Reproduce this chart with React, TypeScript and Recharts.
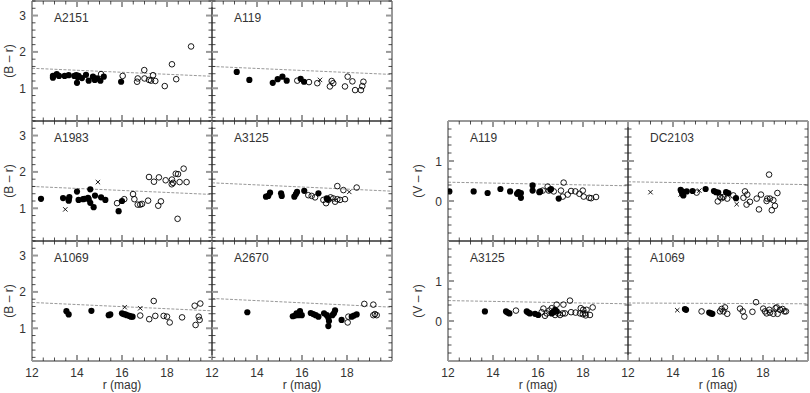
import { ScatterChart, Scatter, XAxis, YAxis, ReferenceLine } from "recharts";

type Pt = [number, number];

// r magnitude axis
const rTicks = [12, 12.5, 13, 13.5, 14, 14.5, 15, 15.5, 16, 16.5, 17, 17.5, 18, 18.5, 19, 19.5, 20];
const rMajor = [12, 14, 16, 18, 20];
const rLabels = [12, 14, 16, 18];

// (B - r) axis
const brTicks = [0.2, 0.4, 0.6, 0.8, 1, 1.2, 1.4, 1.6, 1.8, 2, 2.2, 2.4, 2.6, 2.8, 3, 3.2, 3.4];
const brMajor = [1, 2, 3];
const brLabels = [1, 2, 3];

// (V - r) axis
const vrTicks = [-0.8, -0.6, -0.4, -0.2, 0, 0.2, 0.4, 0.6, 0.8, 1, 1.2, 1.4, 1.6, 1.8];
const vrMajor = [0, 1];
const vrLabels = [0, 1];

// A2151 (B - r)
const a2151Filled: Pt[] = [[12.93, 1.29], [12.93, 1.34], [13.1, 1.39], [13.2, 1.34], [13.45, 1.34], [13.63, 1.36], [13.88, 1.34], [13.97, 1.36], [14.03, 1.3], [14.0, 1.15], [14.07, 1.34], [14.22, 1.28], [14.4, 1.37], [14.52, 1.21], [14.71, 1.32], [14.79, 1.23], [14.89, 1.27], [15.04, 1.21], [15.19, 1.32], [15.96, 1.18]];
const a2151Open: Pt[] = [[15.07, 1.39], [16.03, 1.34], [16.67, 1.18], [16.7, 1.27], [16.99, 1.5], [17.0, 1.27], [17.2, 1.23], [17.29, 1.21], [17.38, 1.36], [17.48, 1.2], [17.9, 1.06], [18.22, 1.66], [18.41, 1.25], [19.07, 2.15]];
const a2151Cross: Pt[] = [];
const a2151Line = [1.55, 1.33];

// A119 (B - r)
const a119bFilled: Pt[] = [[13.1, 1.45], [13.66, 1.23], [14.7, 1.15], [14.92, 1.25], [15.13, 1.32], [15.32, 1.21], [15.94, 1.26], [16.09, 1.18]];
const a119bOpen: Pt[] = [[15.79, 1.21], [16.31, 1.17], [16.68, 1.14], [17.24, 1.05], [17.32, 1.2], [17.39, 1.14], [17.91, 1.05], [18.03, 1.32], [18.24, 1.19], [18.36, 0.95], [18.62, 0.95], [18.68, 1.06], [18.73, 1.18]];
const a119bCross: Pt[] = [[16.8, 1.23]];
const a119bLine = [1.6, 1.38];

// A1983 (B - r)
const a1983Filled: Pt[] = [[12.4, 1.26], [13.38, 1.28], [13.63, 1.25], [13.66, 1.31], [13.63, 1.21], [14.0, 1.46], [14.07, 1.23], [14.27, 1.25], [14.33, 1.26], [14.49, 1.29], [14.52, 1.25], [14.59, 1.52], [14.59, 1.15], [14.74, 1.03], [14.8, 1.35], [15.07, 1.3], [15.26, 1.23], [15.85, 0.92], [16.0, 1.2]];
const a1983Open: Pt[] = [[15.78, 1.14], [16.1, 1.25], [16.49, 1.39], [16.55, 1.25], [16.7, 1.1], [16.81, 1.1], [16.89, 1.12], [17.16, 1.21], [17.2, 1.86], [17.42, 1.73], [17.61, 1.07], [17.64, 1.85], [17.73, 1.19], [17.94, 1.77], [18.22, 1.79], [18.21, 1.66], [18.27, 1.7], [18.39, 1.95], [18.49, 1.94], [18.47, 0.71], [18.56, 1.72], [18.74, 2.09], [18.87, 1.72]];
const a1983Cross: Pt[] = [[13.48, 0.97], [14.93, 1.72]];
const a1983Line = [1.6, 1.38];

// A3125 (B - r)
const a3125bFilled: Pt[] = [[14.4, 1.32], [14.5, 1.34], [14.58, 1.43], [15.07, 1.41], [15.1, 1.34], [15.66, 1.32], [15.73, 1.39], [15.78, 1.45], [16.1, 1.48], [16.73, 1.41], [17.1, 1.27], [17.14, 1.25]];
const a3125bOpen: Pt[] = [[16.28, 1.36], [16.43, 1.34], [16.58, 1.3], [16.95, 1.23], [17.07, 1.14], [17.17, 1.23], [17.27, 1.3], [17.39, 1.27], [17.47, 1.18], [17.57, 1.25], [17.69, 1.23], [17.91, 1.25], [17.57, 1.61], [17.84, 1.5], [18.43, 1.57]];
const a3125bCross: Pt[] = [[18.1, 1.45]];
const a3125bLine = [1.7, 1.47];

// A1069 (B - r)
const a1069bFilled: Pt[] = [[13.53, 1.47], [13.63, 1.38], [14.64, 1.48], [15.41, 1.36], [15.48, 1.38], [16.0, 1.41], [16.07, 1.39], [16.15, 1.38], [16.22, 1.36], [16.33, 1.34], [16.4, 1.32], [16.47, 1.32]];
const a1069bOpen: Pt[] = [[16.81, 1.35], [17.21, 1.25], [17.41, 1.75], [17.48, 1.34], [17.85, 1.34], [18.0, 1.32], [18.12, 1.16], [18.67, 1.3], [19.23, 1.62], [19.27, 1.09], [19.41, 1.32], [19.45, 1.23], [19.48, 1.68]];
const a1069bCross: Pt[] = [[16.12, 1.58], [16.81, 1.55]];
const a1069bLine = [1.71, 1.48];

// A2670 (B - r)
const a2670Filled: Pt[] = [[13.57, 1.44], [15.59, 1.33], [15.69, 1.35], [15.76, 1.41], [15.84, 1.36], [15.91, 1.47], [15.99, 1.36], [16.39, 1.42], [16.5, 1.39], [16.61, 1.36], [16.73, 1.32], [16.98, 1.41], [17.1, 1.36], [17.17, 1.29], [17.2, 1.2], [17.17, 1.06], [17.35, 1.36], [17.42, 1.41], [17.47, 1.49], [17.76, 1.23], [18.21, 1.32], [18.31, 1.35], [18.43, 1.38]];
const a2670Open: Pt[] = [[18.03, 1.16], [18.06, 1.32], [18.77, 1.67], [19.17, 1.65], [19.17, 1.36], [19.24, 1.39], [19.32, 1.36]];
const a2670Cross: Pt[] = [];
const a2670Line = [1.82, 1.58];

// A119 (V - r)
const a119vFilled: Pt[] = [[12.06, 0.24], [13.14, 0.24], [13.76, 0.2], [14.33, 0.3], [14.76, 0.24], [15.07, 0.18], [15.13, 0.22], [15.24, 0.08], [15.24, 0.2], [15.76, 0.26], [15.76, 0.39], [16.06, 0.22], [16.1, 0.24], [16.55, 0.28], [16.58, 0.3], [16.92, 0.06]];
const a119vOpen: Pt[] = [[16.21, 0.26], [16.43, 0.36], [16.48, 0.26], [16.7, 0.24], [17.02, 0.26], [17.1, 0.11], [17.14, 0.46], [17.32, 0.16], [17.47, 0.25], [17.66, 0.24], [17.84, 0.18], [17.99, 0.26], [18.03, 0.11], [18.28, 0.08], [18.36, 0.07], [18.58, 0.1]];
const a119vCross: Pt[] = [];
const a119vLine = [0.47, 0.38];

// DC2103 (V - r)
const dc2103Filled: Pt[] = [[14.34, 0.28], [14.39, 0.24], [14.41, 0.18], [14.46, 0.14], [14.43, 0.23], [14.61, 0.24], [14.87, 0.25], [15.45, 0.3], [15.82, 0.25], [15.91, 0.22], [16.01, 0.21], [16.36, 0.22], [16.46, 0.2], [16.8, 0.07]];
const dc2103Open: Pt[] = [[15.05, 0.21], [15.99, -0.01], [16.09, 0.1], [16.16, 0.07], [16.24, 0.1], [16.41, 0.06], [16.68, 0.14], [17.13, 0.08], [17.2, 0.24], [17.3, 0.16], [17.27, -0.09], [17.42, -0.02], [17.72, 0.06], [17.82, -0.21], [17.91, 0.16], [18.16, 0.0], [18.19, 0.06], [18.27, 0.66], [18.31, 0.06], [18.39, -0.23], [18.46, 0.02], [18.53, -0.12], [18.64, 0.2]];
const dc2103Cross: Pt[] = [[13.0, 0.22], [14.34, 0.16], [15.17, 0.26], [16.83, -0.08]];
const dc2103Line = [0.48, 0.41];

// A3125 (V - r)
const a3125vFilled: Pt[] = [[13.64, 0.24], [14.58, 0.24], [14.65, 0.21], [14.73, 0.19], [15.5, 0.24], [15.57, 0.21], [15.64, 0.19], [15.87, 0.18], [16.01, 0.15], [16.61, 0.19], [16.68, 0.22], [16.76, 0.28], [16.83, 0.24]];
const a3125vOpen: Pt[] = [[15.02, 0.26], [16.16, 0.22], [16.24, 0.31], [16.31, 0.13], [16.39, 0.19], [16.5, 0.26], [16.61, 0.32], [16.76, 0.15], [16.9, 0.19], [16.98, 0.15], [17.1, 0.19], [17.2, 0.19], [16.83, 0.41], [17.13, 0.41], [17.42, 0.51], [17.47, 0.22], [17.67, 0.21], [17.87, 0.19], [17.99, 0.17], [18.09, 0.19], [17.9, 0.32], [18.01, 0.28], [18.16, 0.28], [18.12, 0.14], [18.31, 0.15], [18.43, 0.34]];
const a3125vCross: Pt[] = [];
const a3125vLine = [0.51, 0.43];

// A1069 (V - r)
const a1069vFilled: Pt[] = [[14.53, 0.3], [14.58, 0.28], [15.61, 0.21], [15.69, 0.19], [15.75, 0.18]];
const a1069vOpen: Pt[] = [[15.27, 0.24], [16.09, 0.24], [16.16, 0.3], [16.24, 0.24], [16.31, 0.34], [16.41, 0.18], [16.98, 0.31], [17.1, 0.24], [17.17, 0.11], [17.53, 0.23], [17.69, 0.47], [18.01, 0.31], [18.09, 0.24], [18.16, 0.19], [18.28, 0.28], [18.31, 0.21], [18.46, 0.18], [18.56, 0.32], [18.61, 0.34], [18.65, 0.18], [18.76, 0.28], [18.87, 0.3], [18.95, 0.24], [19.02, 0.24]];
const a1069vCross: Pt[] = [[14.19, 0.27]];
const a1069vLine = [0.45, 0.43];

const W = 180;
const H = 120;
const ML = 40;
const MT = 6;
const MR = 6;
const MB = 34;
const FONT = "'Liberation Sans', Arial, sans-serif";
const TEXT = "#333";
const FRAME = "#333";

const panels = [
  { name: "A2151", left: 32, top: 1, color: "B", filled: a2151Filled, open: a2151Open, cross: a2151Cross, line: a2151Line, yLab: true, xLab: false },
  { name: "A119", left: 212, top: 1, color: "B", filled: a119bFilled, open: a119bOpen, cross: a119bCross, line: a119bLine, yLab: false, xLab: false },
  { name: "A1983", left: 32, top: 121, color: "B", filled: a1983Filled, open: a1983Open, cross: a1983Cross, line: a1983Line, yLab: true, xLab: false },
  { name: "A3125", left: 212, top: 121, color: "B", filled: a3125bFilled, open: a3125bOpen, cross: a3125bCross, line: a3125bLine, yLab: false, xLab: false },
  { name: "A1069", left: 32, top: 241, color: "B", filled: a1069bFilled, open: a1069bOpen, cross: a1069bCross, line: a1069bLine, yLab: true, xLab: true },
  { name: "A2670", left: 212, top: 241, color: "B", filled: a2670Filled, open: a2670Open, cross: a2670Cross, line: a2670Line, yLab: false, xLab: true },
  { name: "A119", left: 448, top: 121, color: "V", filled: a119vFilled, open: a119vOpen, cross: a119vCross, line: a119vLine, yLab: true, xLab: false },
  { name: "DC2103", left: 628, top: 121, color: "V", filled: dc2103Filled, open: dc2103Open, cross: dc2103Cross, line: dc2103Line, yLab: false, xLab: false },
  { name: "A3125", left: 448, top: 241, color: "V", filled: a3125vFilled, open: a3125vOpen, cross: a3125vCross, line: a3125vLine, yLab: true, xLab: true },
  { name: "A1069", left: 628, top: 241, color: "V", filled: a1069vFilled, open: a1069vOpen, cross: a1069vCross, line: a1069vLine, yLab: false, xLab: true },
];

const toPts = (arr: Pt[]) => arr.map(([r, c]) => ({ r, c }));
const near = (v: number, list: number[]) => list.some((m) => Math.abs(m - v) < 1e-6);

const tickStyle = (major: boolean) =>
  major ? { stroke: "#999", strokeWidth: 2, len: 6 } : { stroke: "#222", strokeWidth: 0.8, len: 3.5 };

const xTick = (side: "top" | "bottom", labels: boolean) => (p: any) => {
  const v = p.payload.value;
  const s = tickStyle(near(v, rMajor));
  const dir = side === "bottom" ? -1 : 1;
  return (
    <g>
      <line x1={p.x} x2={p.x} y1={p.y} y2={p.y + dir * s.len} stroke={s.stroke} strokeWidth={s.strokeWidth} />
      {labels && side === "bottom" && near(v, rLabels) && (
        <text x={p.x} y={p.y + 15.5} textAnchor="middle" fontSize={12} fontFamily={FONT} fill={TEXT}>
          {v}
        </text>
      )}
    </g>
  );
};

const yTick = (side: "left" | "right", labels: boolean, major: number[], labelVals: number[]) => (p: any) => {
  const v = p.payload.value;
  const s = tickStyle(near(v, major));
  const dir = side === "left" ? 1 : -1;
  return (
    <g>
      <line x1={p.x} x2={p.x + dir * s.len} y1={p.y} y2={p.y} stroke={s.stroke} strokeWidth={s.strokeWidth} />
      {labels && side === "left" && near(v, labelVals) && (
        <text x={p.x - 6} y={p.y + 4.5} textAnchor="end" fontSize={12} fontFamily={FONT} fill={TEXT}>
          {v}
        </text>
      )}
    </g>
  );
};

const dot = (p: any) => <circle cx={p.cx} cy={p.cy} r={3.1} fill="#000" />;
const ring = (p: any) => <circle cx={p.cx} cy={p.cy} r={2.8} fill="none" stroke="#000" strokeWidth={0.9} />;
const cross = (p: any) => (
  <g stroke="#000" strokeWidth={0.9}>
    <line x1={p.cx - 2.2} y1={p.cy - 2.2} x2={p.cx + 2.2} y2={p.cy + 2.2} />
    <line x1={p.cx - 2.2} y1={p.cy + 2.2} x2={p.cx + 2.2} y2={p.cy - 2.2} />
  </g>
);

function Panel({ p }: { p: (typeof panels)[number] }) {
  const isB = p.color === "B";
  const yDomain = isB ? [0.1, 3.4] : [-1, 2];
  const yTicks = isB ? brTicks : vrTicks;
  const yMajor = isB ? brMajor : vrMajor;
  const yLabels = isB ? brLabels : vrLabels;
  const axisLine = { stroke: FRAME, strokeWidth: 1 };
  // each axis takes 1px, so margins are one less than the gap around the panel
  return (
    <div style={{ position: "absolute", left: p.left - ML, top: p.top - MT }}>
      <ScatterChart width={W + ML + MR} height={H + MT + MB} margin={{ top: MT - 1, right: MR - 1, bottom: MB - 1, left: ML - 1 }}>
        <XAxis xAxisId="b" orientation="bottom" type="number" dataKey="r" domain={[12, 20]} allowDataOverflow ticks={rTicks} interval={0} height={1} tickSize={0} tickMargin={0} tickLine={false} axisLine={axisLine} tick={xTick("bottom", p.xLab)} />
        <XAxis xAxisId="t" orientation="top" type="number" dataKey="r" domain={[12, 20]} allowDataOverflow ticks={rTicks} interval={0} height={1} tickSize={0} tickMargin={0} tickLine={false} axisLine={axisLine} tick={xTick("top", false)} />
        <YAxis yAxisId="l" orientation="left" type="number" dataKey="c" domain={yDomain} allowDataOverflow ticks={yTicks} interval={0} width={1} tickSize={0} tickMargin={0} tickLine={false} axisLine={axisLine} tick={yTick("left", p.yLab, yMajor, yLabels)} />
        <YAxis yAxisId="rt" orientation="right" type="number" dataKey="c" domain={yDomain} allowDataOverflow ticks={yTicks} interval={0} width={1} tickSize={0} tickMargin={0} tickLine={false} axisLine={axisLine} tick={yTick("right", false, yMajor, yLabels)} />
        <ReferenceLine xAxisId="b" yAxisId="l" segment={[{ x: 12, y: p.line[0] }, { x: 20, y: p.line[1] }]} stroke="#999" strokeWidth={1} strokeDasharray="3 1.5" ifOverflow="visible" />
        <Scatter xAxisId="b" yAxisId="l" data={toPts(p.filled)} shape={dot} isAnimationActive={false} />
        <Scatter xAxisId="b" yAxisId="l" data={toPts(p.open)} shape={ring} isAnimationActive={false} />
        <Scatter xAxisId="b" yAxisId="l" data={toPts(p.cross)} shape={cross} isAnimationActive={false} />
      </ScatterChart>
    </div>
  );
}

export default function App() {
  const text = { position: "absolute" as const, fontFamily: FONT, fontSize: 12, color: TEXT, whiteSpace: "nowrap" as const, lineHeight: "14px" };
  return (
    <div style={{ position: "absolute", left: 0, top: 0, width: 810, height: 393, background: "#fff", overflow: "hidden" }}>
      {panels.map((p, i) => (
        <Panel key={i} p={p} />
      ))}
      {panels.map((p, i) => (
        <div key={"n" + i} style={{ ...text, left: p.left + 22, top: p.top + 10 }}>
          {p.name}
        </div>
      ))}
      {panels
        .filter((p) => p.yLab)
        .map((p, i) => {
          const cx = p.left - (p.color === "B" ? 23 : 30);
          const cy = p.top + H / 2;
          return (
            <div key={"y" + i} style={{ ...text, left: cx - 30, top: cy - 7, width: 60, textAlign: "center", transform: "rotate(-90deg)" }}>
              {p.color === "B" ? "(B – r)" : "(V – r)"}
            </div>
          );
        })}
      {panels
        .filter((p) => p.xLab)
        .map((p, i) => (
          <div key={"x" + i} style={{ ...text, left: p.left + W / 2 - 30, top: p.top + H + 17, width: 60, textAlign: "center" }}>
            r (mag)
          </div>
        ))}
    </div>
  );
}
